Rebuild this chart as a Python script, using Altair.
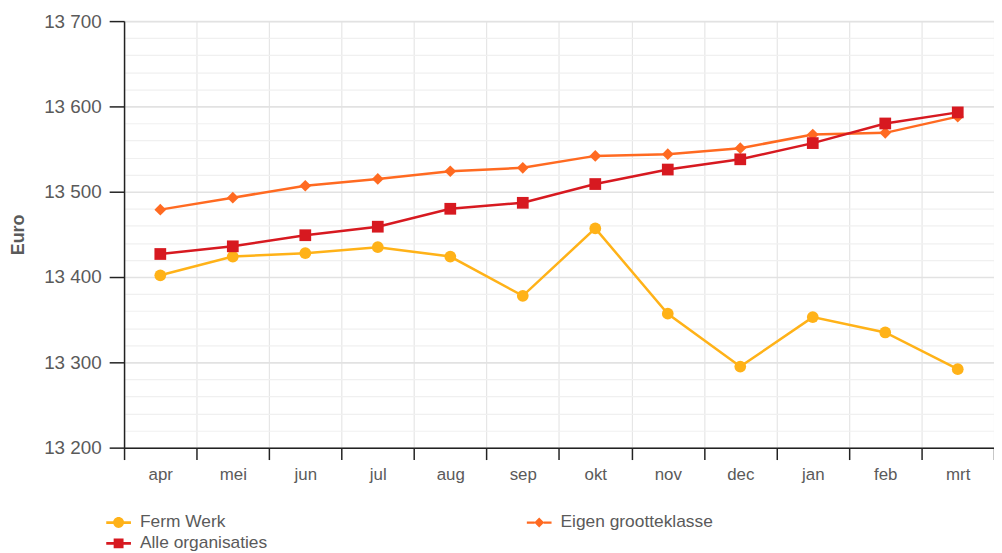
import altair as alt
import pandas as pd

months = ["apr", "mei", "jun", "jul", "aug", "sep", "okt", "nov", "dec", "jan", "feb", "mrt"]
series_names = ["Ferm Werk", "Eigen grootteklasse", "Alle organisaties"]
ferm_werk = [13402, 13424, 13428, 13435, 13424, 13378, 13457, 13357, 13295, 13353, 13335, 13292]
eigen = [13479, 13493, 13507, 13515, 13524, 13528, 13542, 13544, 13551, 13567, 13569, 13588]
alle = [13427, 13436, 13449, 13459, 13480, 13487, 13509, 13526, 13538, 13557, 13580, 13593]
colors = ["#FFB218", "#FF6A21", "#D71920"]
legend_order = ["Ferm Werk", "Alle organisaties", "Eigen grootteklasse"]
y_ticks = list(range(13200, 13701, 20))

rows = []
for name, vals in zip(series_names, [ferm_werk, eigen, alle]):
    for m, v in zip(months, vals):
        rows.append({"month": m, "series": name, "value": v})
df = pd.DataFrame(rows)

FONT = "Liberation Sans"
GRAY = "#5a5a5a"

x_enc = alt.X(
    "month:O",
    sort=months,
    scale=alt.Scale(type="band", paddingInner=0, paddingOuter=0),
    axis=alt.Axis(
        title=None,
        grid=True,
        tickBand="extent",
        labelAngle=0,
        labelFont=FONT,
        labelFontSize=17,
        labelColor=GRAY,
        labelPadding=7,
        tickColor="#222222",
        tickSize=12,
        tickWidth=1.5,
        domainColor="#222222",
        domainWidth=1.5,
        gridColor="#e6e6e6",
        gridWidth=1.2,
    ),
)

y_enc = alt.Y(
    "value:Q",
    scale=alt.Scale(domain=[13200, 13700], nice=False, zero=False),
    axis=alt.Axis(
        title="Euro",
        titleFont=FONT,
        titleFontSize=18,
        titleFontWeight="bold",
        titleColor=GRAY,
        titlePadding=16,
        values=y_ticks,
        labelExpr="datum.value % 100 === 0 ? replace(format(datum.value, ',d'), ',', ' ') : ''",
        labelFont=FONT,
        labelFontSize=19,
        labelColor=GRAY,
        labelPadding=8,
        tickColor="#222222",
        tickSize=15,
        tickWidth=1.5,
        tickOpacity={"condition": {"test": "datum.value % 100 === 0", "value": 1}, "value": 0},
        domainColor="#222222",
        domainWidth=1.5,
        gridColor={"condition": {"test": "datum.value % 100 === 0", "value": "#e2e2e2"}, "value": "#f0f0f0"},
        gridWidth={"condition": {"test": "datum.value % 100 === 0", "value": 1.6}, "value": 1.2},
    ),
)

color_scale = alt.Scale(domain=series_names, range=colors)

base = alt.Chart(df)

lines = base.mark_line(strokeWidth=2.5).encode(
    x=x_enc,
    y=y_enc,
    color=alt.Color("series:N", scale=color_scale, legend=None),
    detail="series:N",
)

points = base.mark_point(filled=True, opacity=1).encode(
    x=x_enc,
    y=y_enc,
    color=alt.Color("series:N", scale=color_scale, legend=None),
    shape=alt.Shape("series:N", scale=alt.Scale(domain=series_names, range=["circle", "diamond", "square"]), legend=None),
    size=alt.value(140),
)

circle_path = "M-1,-0.11H-0.42V0.11H-1Z M0.42,-0.11H1V0.11H0.42Z M-0.44,0 A0.44,0.44 0 1,1 0.44,0 A0.44,0.44 0 1,1 -0.44,0Z"
diamond_path = "M-1,-0.09H-0.36V0.09H-1Z M0.36,-0.09H1V0.09H0.36Z M0,-0.4 L0.4,0 L0,0.4 L-0.4,0Z"
square_path = "M-1,-0.11H-0.4V0.11H-1Z M0.4,-0.11H1V0.11H0.4Z M-0.4,-0.4H0.4V0.4H-0.4Z"
path_of = {"Ferm Werk": circle_path, "Eigen grootteklasse": diamond_path, "Alle organisaties": square_path}
color_of = dict(zip(series_names, colors))

legend_props = dict(
    title=None,
    orient="none",
    legendX=-18,
    legendY=493,
    columns=2,
    columnPadding=261,
    rowPadding=0,
    symbolOpacity=1,
    symbolSize=620,
    symbolStrokeWidth=0,
    labelFont=FONT,
    labelFontSize=17.5,
    labelColor=GRAY,
    labelOffset=9,
)

legend_layer = base.mark_point(filled=True, opacity=0).encode(
    x=x_enc,
    y=y_enc,
    color=alt.Color("series:N",
                    scale=alt.Scale(domain=legend_order, range=[color_of[s] for s in legend_order]),
                    legend=alt.Legend(**legend_props)),
    shape=alt.Shape("series:N",
                    scale=alt.Scale(domain=legend_order, range=[path_of[s] for s in legend_order]),
                    legend=alt.Legend(**legend_props)),
)

chart = (
    alt.layer(lines, points, legend_layer)
    .resolve_scale(shape="independent", color="independent")
    .properties(
        width=877,
        height=430,
        autosize=alt.AutoSizeParams(type="none"),
        padding={"left": 117, "top": 11, "right": 0, "bottom": 104},
    )
    .configure_view(stroke=None)
    .configure(background="white")
)

chart.save("out.html", embed_options={"renderer": "svg", "actions": False})
